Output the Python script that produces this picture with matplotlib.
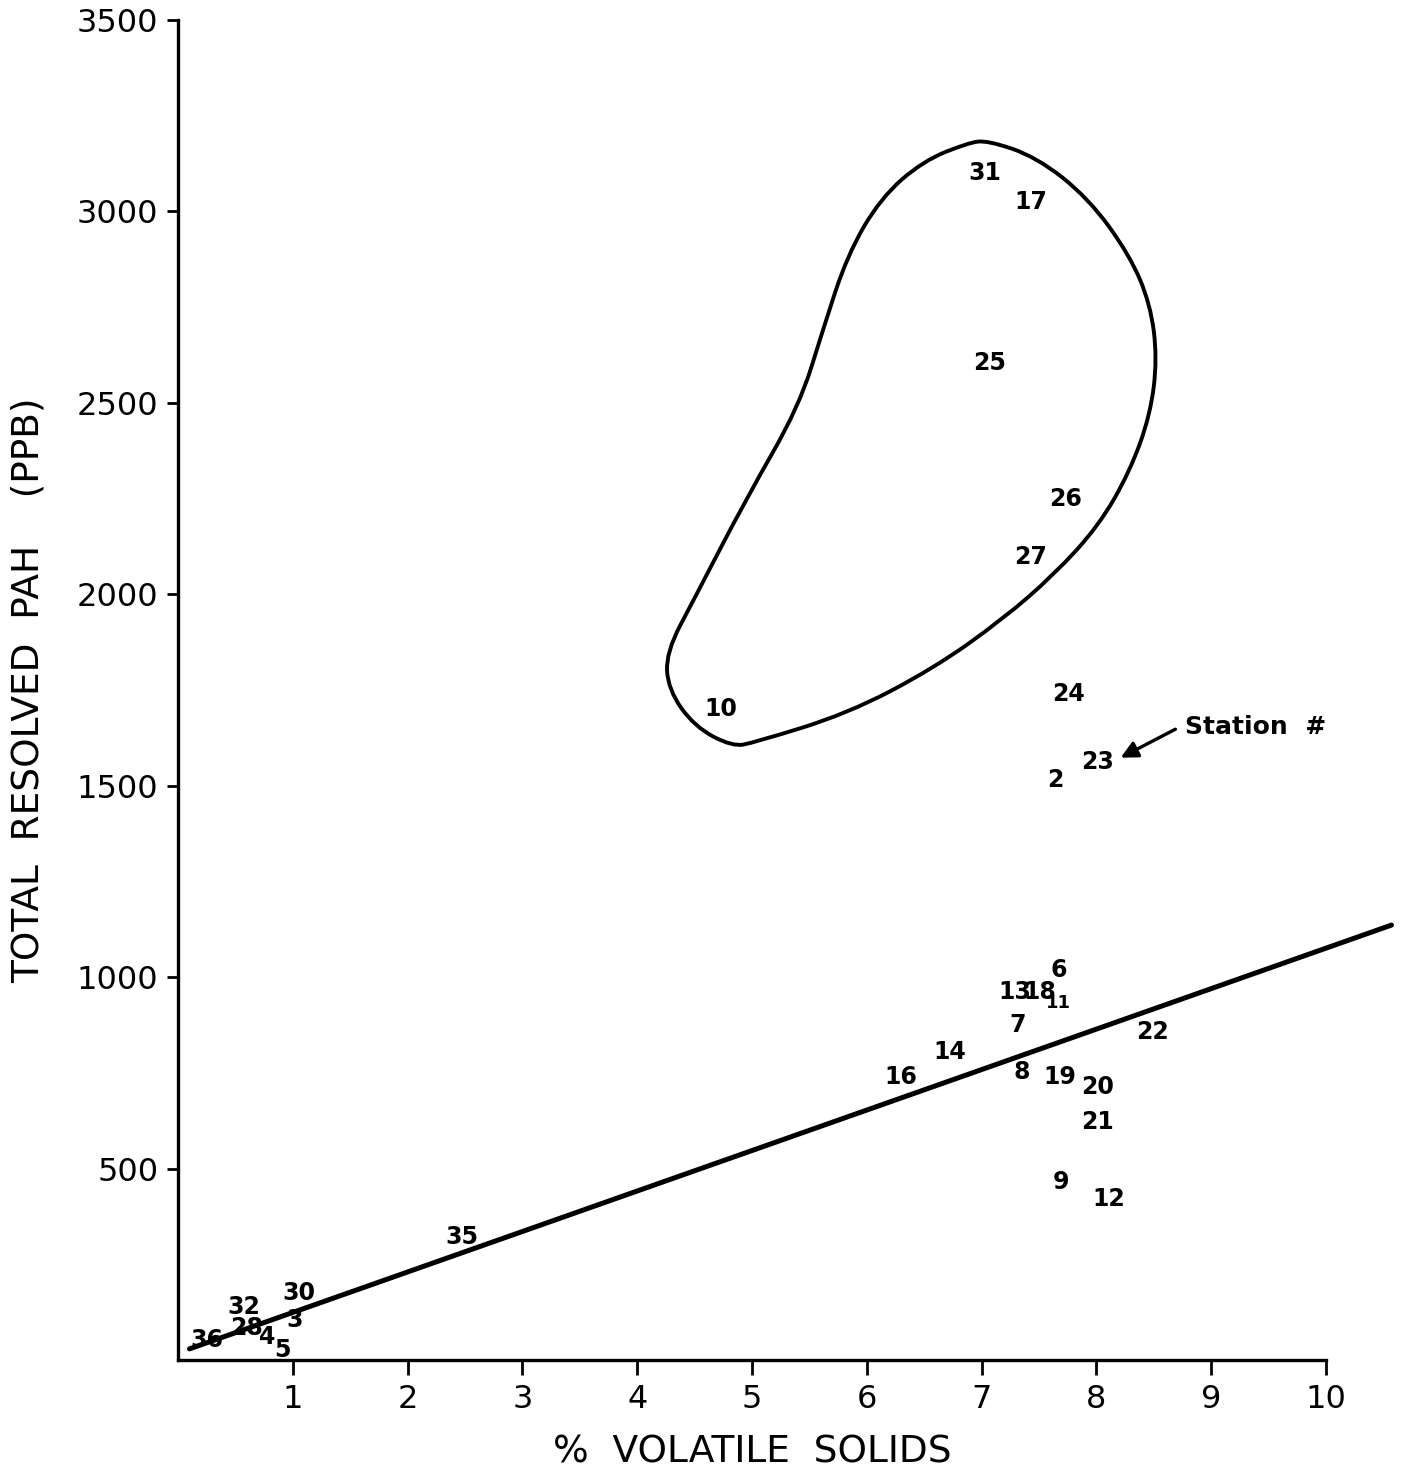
import matplotlib.pyplot as plt
import matplotlib as mpl
from matplotlib.path import Path
from matplotlib.patches import PathPatch

# station numbers and their positions (% volatile solids, total resolved PAH ppb)
stations = ['31', '17', '25', '26', '27', '10', '24', '23', '2',
            '6', '13', '18', '11', '7', '22', '14', '8', '16', '19',
            '20', '21', '9', '12', '35', '30', '32', '3', '28', '36', '4', '5']
vol_solids = [7.03, 7.43, 7.07, 7.73, 7.43, 4.73, 7.76, 8.01, 7.64,
              7.67, 7.29, 7.51, 7.67, 7.31, 8.49, 6.72, 7.35, 6.30, 7.68,
              8.01, 8.01, 7.69, 8.11, 2.47, 1.05, 0.57, 1.02, 0.60, 0.25, 0.78, 0.91]
pah_ppb = [3100, 3024, 2604, 2248, 2097, 1700, 1739, 1562, 1515,
           1019, 961, 961, 932, 875, 857, 804, 752, 739, 739,
           713, 622, 465, 420, 321, 175, 138, 104, 84, 52, 60, 26]

# regression line end points
fit_x = [0.10, 10.57]
fit_y = [29, 1136]

# hand drawn loop around the high PAH group (control points)
loop_x = [7.05, 7.48, 7.93, 8.29, 8.47, 8.53, 8.47, 8.29, 8.02, 7.63, 7.18, 6.58,
          5.83, 5.02, 4.83, 4.50, 4.27, 4.25, 4.50, 4.95, 5.41, 5.62, 5.83, 6.12, 6.49, 6.88]
loop_y = [3186, 3142, 3035, 2886, 2758, 2617, 2469, 2320, 2179, 2051, 1934, 1806,
          1688, 1613, 1602, 1654, 1751, 1848, 1990, 2250, 2490, 2693, 2886, 3035, 3132, 3179]

xticks = [1, 2, 3, 4, 5, 6, 7, 8, 9, 10]
yticks = [500, 1000, 1500, 2000, 2500, 3000, 3500]

mpl.rc('font', family='DejaVu Sans')
mpl.rc('axes', linewidth=2.4)

fig = plt.figure(figsize=(14.06, 14.76), dpi=100)
ax = fig.add_axes([0.1266, 0.0786, 0.8165, 0.9078])

ax.set_xlim(0, 10)
ax.set_ylim(0, 3500)
ax.spines['top'].set_visible(False)
ax.spines['right'].set_visible(False)

ax.set_xticks(xticks)
ax.set_xticklabels([str(t) for t in xticks], fontsize=23)
ax.set_yticks(yticks)
ax.set_yticklabels([str(t) for t in yticks], fontsize=23)
ax.tick_params(axis='x', direction='out', length=11, width=2, pad=6)
ax.tick_params(axis='y', direction='out', length=8, width=2, pad=6)

ax.set_xlabel('%  VOLATILE  SOLIDS', fontsize=27, labelpad=14)
ax.set_ylabel('TOTAL  RESOLVED  PAH    (PPB)', fontsize=27, labelpad=22)

# regression line runs past the end of the axis
ax.plot(fit_x, fit_y, color='black', linewidth=3.6, clip_on=False, solid_capstyle='round')

# smooth closed loop: quadratic curves through midpoints of control points
n = len(loop_x)
mids = [((loop_x[i] + loop_x[(i + 1) % n]) / 2, (loop_y[i] + loop_y[(i + 1) % n]) / 2) for i in range(n)]
verts = [mids[-1]]
codes = [Path.MOVETO]
for i in range(n):
    verts += [(loop_x[i], loop_y[i]), mids[i]]
    codes += [Path.CURVE3, Path.CURVE3]
ax.add_patch(PathPatch(Path(verts, codes), facecolor='none', edgecolor='black', linewidth=2.8))

for s, x, y in zip(stations, vol_solids, pah_ppb):
    fs = 13 if s == '11' else 17
    ax.text(x, y, s, fontsize=fs, fontweight='bold', ha='center', va='center', clip_on=False)

ax.annotate('', xy=(8.19, 1570), xytext=(8.71, 1651),
            arrowprops=dict(arrowstyle='-|>', color='black', lw=2.4, mutation_scale=25))
ax.text(8.77, 1653, 'Station  #', fontsize=18, fontweight='bold', ha='left', va='center')

fig.savefig('out.png', dpi=100)
